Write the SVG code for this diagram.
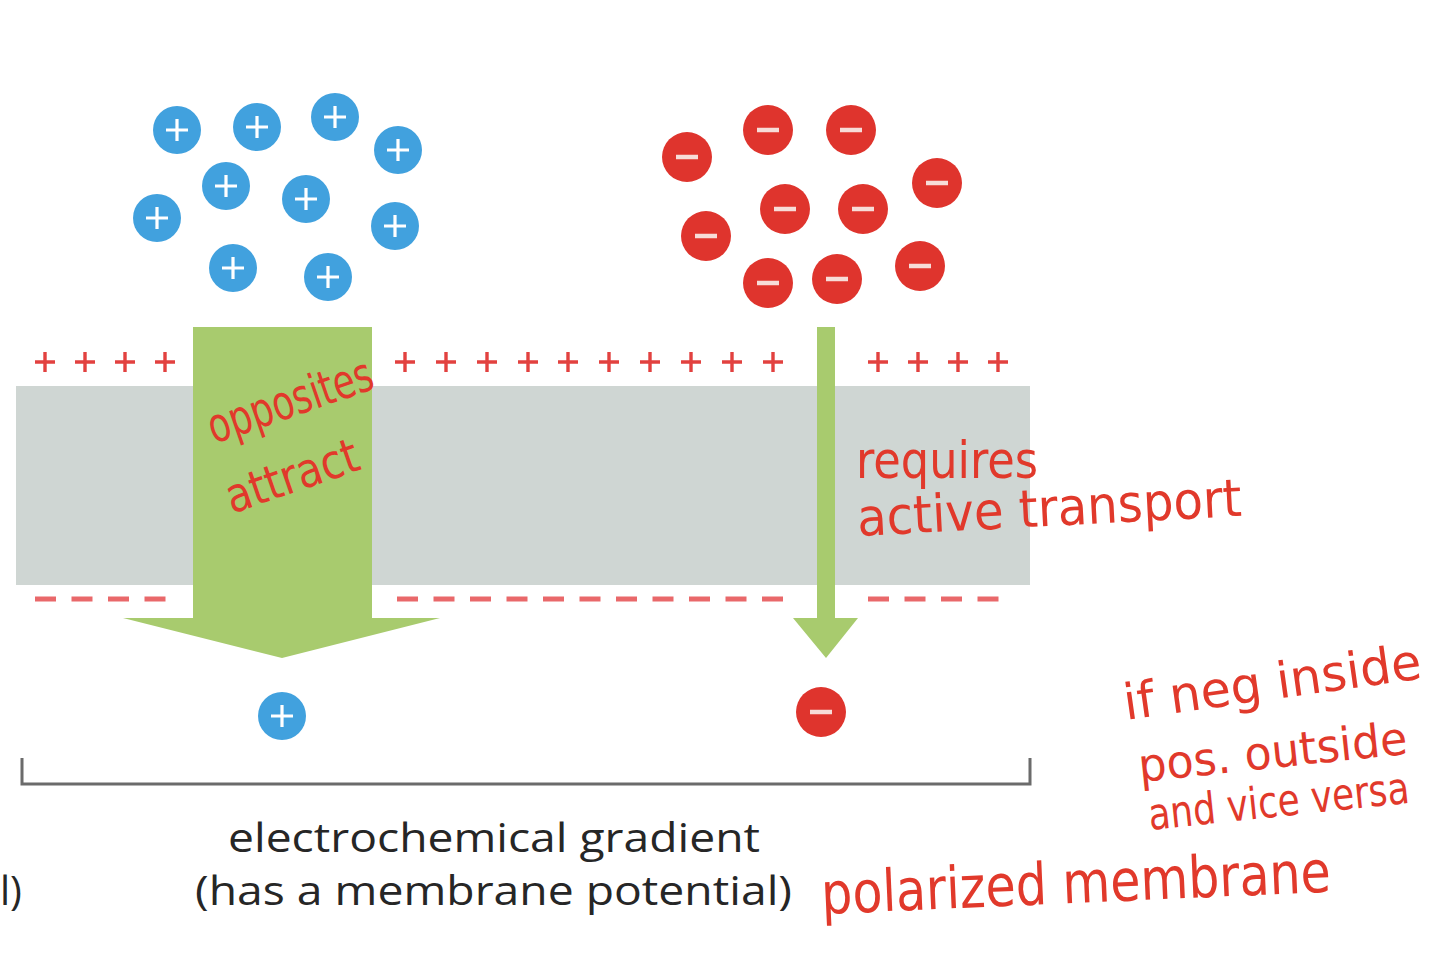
<svg xmlns="http://www.w3.org/2000/svg" xmlns:xlink="http://www.w3.org/1999/xlink" width="1440" height="959" viewBox="0 0 1440 959">
<style>
.pos circle{fill:#41a1de}
.pos path{stroke:#ffffff;stroke-width:3.2;fill:none}
.neg circle{fill:#df342d}
.neg path{stroke:#f7dcd8;stroke-width:4.5;fill:none}
.plus{stroke:#e2413f;stroke-width:3.4;fill:none}
.minus{stroke:#e9686a;stroke-width:5;fill:none;stroke-dasharray:21 15.5}
.arrow{fill:#a8cb6e}
.lbl{font-family:"Open Sans","Noto Sans",sans-serif;fill:#262626;font-size:40px}
.hw{font-family:"Liberation Sans Narrow","DejaVu Sans Condensed","Liberation Sans",sans-serif;fill:#e1392b;font-stretch:condensed}
</style>
<defs>
<g id="pion" class="pos"><circle r="24"/><path d="M-11 0H11M0 -11V11"/></g>
<g id="nion" class="neg"><circle r="25"/><path d="M-11 0H11"/></g>
</defs>
<rect width="1440" height="959" fill="#ffffff"/>

<g id="membrane">
<rect x="16" y="386" width="1014" height="199" fill="#cfd6d3"/>
</g>

<g id="outer-charges">
<path class="plus" d="M35 362h20M45 352v20M75 362h20M85 352v20M115 362h20M125 352v20M155 362h20M165 352v20
M395 362h20M405 352v20M436 362h20M446 352v20M477 362h20M487 352v20M518 362h20M528 352v20M558 362h20M568 352v20
M599 362h20M609 352v20M640 362h20M650 352v20M681 362h20M691 352v20M722 362h20M732 352v20M763 362h20M773 352v20
M868 362h20M878 352v20M908 362h20M918 352v20M948 362h20M958 352v20M988 362h20M998 352v20"/>
</g>
<g id="inner-charges">
<path class="minus" d="M35 599H166M397 599H784M868 599H999"/>
</g>

<g id="connectors">
<polygon id="cation-arrow" class="arrow" points="193,327 372,327 372,618 440,618 282,658 123,618 193,618"/>
<polygon id="anion-arrow" class="arrow" points="817,327 835,327 835,618 858,618 826,658 793,618 817,618"/>
</g>

<g id="cations-outside">
<use xlink:href="#pion" x="177" y="130"/>
<use xlink:href="#pion" x="257" y="127"/>
<use xlink:href="#pion" x="335" y="117"/>
<use xlink:href="#pion" x="398" y="150"/>
<use xlink:href="#pion" x="226" y="186"/>
<use xlink:href="#pion" x="306" y="199"/>
<use xlink:href="#pion" x="157" y="218"/>
<use xlink:href="#pion" x="395" y="226"/>
<use xlink:href="#pion" x="233" y="268"/>
<use xlink:href="#pion" x="328" y="277"/>
</g>

<g id="anions-outside">
<use xlink:href="#nion" x="687" y="157"/>
<use xlink:href="#nion" x="768" y="130"/>
<use xlink:href="#nion" x="851" y="130"/>
<use xlink:href="#nion" x="937" y="183"/>
<use xlink:href="#nion" x="785" y="209"/>
<use xlink:href="#nion" x="863" y="209"/>
<use xlink:href="#nion" x="706" y="236"/>
<use xlink:href="#nion" x="768" y="283"/>
<use xlink:href="#nion" x="837" y="279"/>
<use xlink:href="#nion" x="920" y="266"/>
</g>

<g id="cation-inside"><use xlink:href="#pion" x="282" y="716"/></g>
<g id="anion-inside"><use xlink:href="#nion" x="821" y="712"/></g>

<g id="bracket">
<path d="M22 758V784H1030V758" fill="none" stroke="#6b6b6b" stroke-width="3"/>
</g>

<g id="caption">
<text class="lbl" x="228" y="852" textLength="532" lengthAdjust="spacingAndGlyphs">electrochemical gradient</text>
<text class="lbl" x="195" y="905" textLength="597" lengthAdjust="spacingAndGlyphs">(has a membrane potential)</text>
<text class="lbl" x="0" y="905">l)</text>
</g>

<g id="notes">
<text class="hw" transform="translate(214,444) rotate(-19)" font-size="48" textLength="172" lengthAdjust="spacingAndGlyphs">opposites</text>
<text class="hw" transform="translate(232,514) rotate(-19)" font-size="48" textLength="138" lengthAdjust="spacingAndGlyphs">attract</text>
<text class="hw" x="856" y="478" font-size="52" textLength="182" lengthAdjust="spacingAndGlyphs">requires</text>
<text class="hw" transform="translate(858,536) rotate(-3)" font-size="52" textLength="385" lengthAdjust="spacingAndGlyphs">active transport</text>
<text class="hw" transform="translate(1126,720) rotate(-8)" font-size="50" textLength="300" lengthAdjust="spacingAndGlyphs">if neg inside</text>
<text class="hw" transform="translate(1140,782) rotate(-6)" font-size="46" textLength="270" lengthAdjust="spacingAndGlyphs">pos. outside</text>
<text class="hw" transform="translate(1150,830) rotate(-6)" font-size="44" textLength="262" lengthAdjust="spacingAndGlyphs">and vice versa</text>
<text class="hw" transform="translate(822,914) rotate(-2.5)" font-size="58" textLength="510" lengthAdjust="spacingAndGlyphs">polarized membrane</text>
</g>
</svg>
